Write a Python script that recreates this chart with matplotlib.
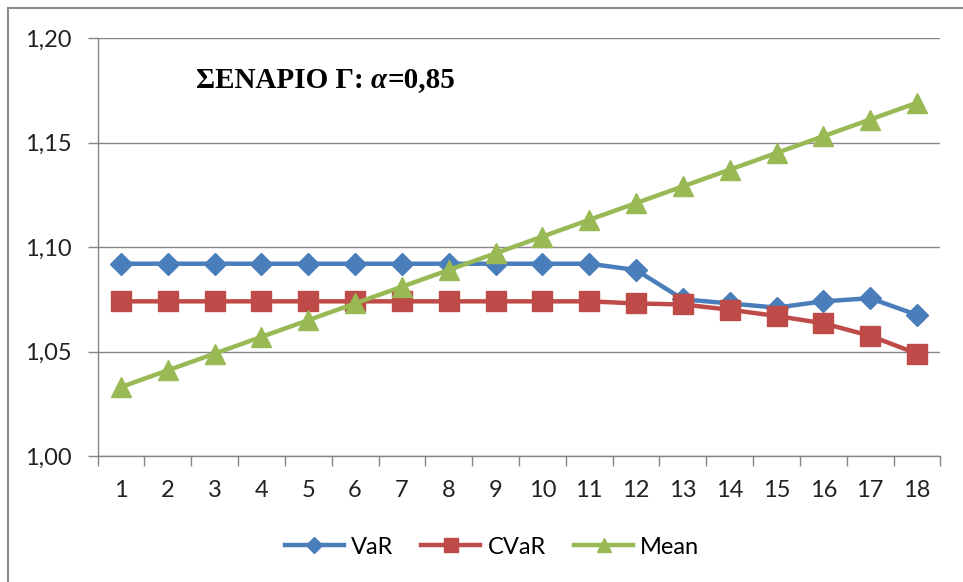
import matplotlib
matplotlib.use("Agg")
import matplotlib.pyplot as plt
from matplotlib.patches import Rectangle

# values
periods = list(range(1, 19))
var_vals = [1.092, 1.092, 1.092, 1.092, 1.092, 1.092, 1.092, 1.092, 1.092,
            1.092, 1.092, 1.089, 1.075, 1.073, 1.071, 1.074, 1.0755, 1.0675]
cvar_vals = [1.074, 1.074, 1.074, 1.074, 1.074, 1.074, 1.074, 1.074, 1.074,
             1.074, 1.074, 1.073, 1.0725, 1.070, 1.067, 1.0635, 1.0575, 1.049]
mean_vals = [1.033, 1.041, 1.049, 1.057, 1.065, 1.073, 1.081, 1.089, 1.097,
             1.105, 1.113, 1.121, 1.129, 1.137, 1.145, 1.153, 1.161, 1.169]
y_ticks = [1.00, 1.05, 1.10, 1.15, 1.20]

plt.rcParams['font.family'] = ['Lato', 'DejaVu Sans']
W, H = 963, 582
fig = plt.figure(figsize=(W / 100, H / 100), dpi=100)

# outer chart frame (only left/top visible in the crop)
fig.patches.append(Rectangle((8 / W, -0.1), 1.2, (H - 8) / H + 0.1, transform=fig.transFigure,
                             fill=False, edgecolor="#8c8c8c", linewidth=1.5))

ax = fig.add_axes([97.6 / W, (H - 456) / H, (940.4 - 97.6) / W, (456 - 38) / H])

ax.plot(periods, var_vals, color="#4A7EBB", lw=3.2, marker="D", ms=11,
        mfc="#4A7EBB", mec="#4A7EBB", label="VaR", zorder=3)
ax.plot(periods, cvar_vals, color="#BE4B48", lw=3.2, marker="s", ms=14,
        mfc="#BE4B48", mec="#BE4B48", label="CVaR", zorder=3)
ax.plot(periods, mean_vals, color="#98B954", lw=3.2, marker="^", ms=15,
        mfc="#98B954", mec="#98B954", label="Mean", zorder=4)

ax.set_xlim(0.5, 18.5)
ax.set_ylim(1.0, 1.2)
ax.set_yticks(y_ticks)
ax.set_yticklabels([("%.2f" % v).replace(".", ",") for v in y_ticks])
ax.set_xticks(periods)
ax.set_xticks([p + 0.5 for p in range(0, 19)], minor=True)
ax.tick_params(axis="x", which="major", length=0, pad=17, labelsize=17, colors="#222222")
ax.tick_params(axis="x", which="minor", length=7, color="#868686", width=1)
ax.tick_params(axis="y", length=7, color="#868686", width=1, pad=12, labelsize=17,
               colors="#222222")
ax.yaxis.grid(True, color="#868686", lw=1)
ax.set_axisbelow(True)
for s in ["top", "right"]:
    ax.spines[s].set_visible(False)
for s in ["left", "bottom"]:
    ax.spines[s].set_color("#868686")
    ax.spines[s].set_linewidth(1)

# title in three pieces so alpha can be italic
fig.canvas.draw()
r = fig.canvas.get_renderer()
x = 196
for part, style in [("ΣΕΝΑΡΙΟ Γ: ", "normal"), ("α", "italic"), ("=0,85", "normal")]:
    t = fig.text(x / W, 1 - 80 / H, part, fontsize=21, fontweight="bold", fontstyle=style,
                 family="Liberation Serif", va="center", ha="left")
    x += t.get_window_extent(r).width

leg = fig.legend(loc="center", bbox_to_anchor=(492 / W, 1 - 547 / H), ncol=3,
                 frameon=False, fontsize=17, handlelength=2.5, columnspacing=1.2,
                 handletextpad=0.3, markerscale=0.7)

fig.savefig("out.png", dpi=100)
